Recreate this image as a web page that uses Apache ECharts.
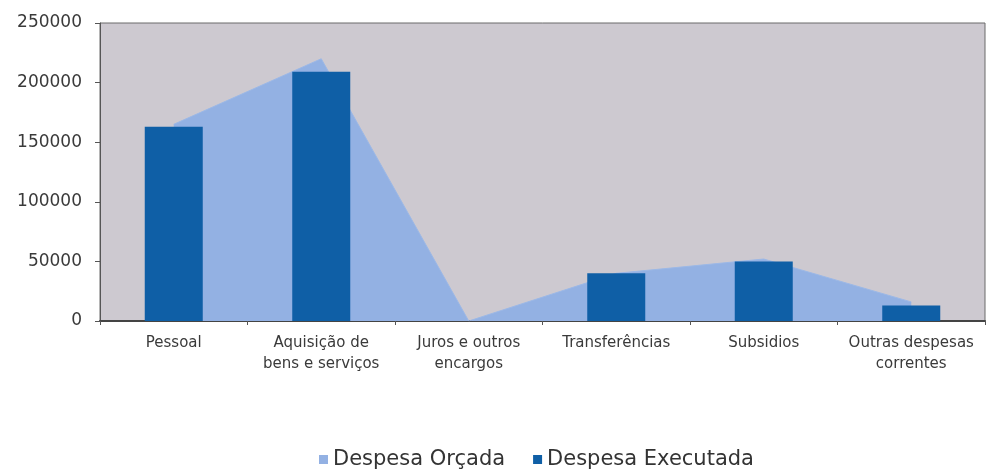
<!DOCTYPE html>
<html>
<head>
<meta charset="utf-8">
<script src="https://cdn.jsdelivr.net/npm/echarts@6/dist/echarts.min.js"></script>
<style>
  html, body { margin: 0; padding: 0; background: #fff; }
  #chart { width: 988px; height: 470px; }
</style>
</head>
<body>
<div id="chart"></div>
<script>
  // categorias (eixo x)
  var categorias = ['Pessoal', 'Aquisição de\nbens e serviços', 'Juros e outros\nencargos',
                    'Transferências', 'Subsidios', 'Outras despesas\ncorrentes']
  // valores
  var despesaOrcada = [165000, 220000, 0, 40000, 52000, 16000]
  var despesaExecutada = [163000, 209000, 0, 40000, 50000, 13000]
  var eixoY = {min: 0, max: 250000, interval: 50000}

  var myChart = echarts.init(document.getElementById('chart'))

  var option = {
    backgroundColor: '#fff',
    animation: false,
    grid: {
      left: 100,
      right: 3,
      top: 23,
      bottom: 149,
      show: true,
      backgroundColor: '#cdc9d0',
      borderColor: '#6a6a6a',
      borderWidth: 1
    },
    legend: {
      left: 314,
      top: 444,
      itemWidth: 9,
      itemHeight: 9,
      itemGap: 28,
      icon: 'rect',
      textStyle: {
        fontFamily: 'DejaVu Sans',
        fontSize: 21,
        color: '#333'
      },
      data: ['Despesa Orçada', 'Despesa Executada']
    },
    xAxis: {
      type: 'category',
      data: categorias,
      boundaryGap: true,
      axisLine: {
        lineStyle: {color: '#444', width: 2}
      },
      axisTick: {
        show: true,
        length: 4,
        lineStyle: {color: '#555'}
      },
      axisLabel: {
        interval: 0,
        margin: 12,
        fontFamily: 'DejaVu Sans',
        fontSize: 15,
        lineHeight: 21,
        color: '#3a3a3a'
      },
      splitLine: {show: false}
    },
    yAxis: {
      type: 'value',
      min: eixoY.min,
      max: eixoY.max,
      interval: eixoY.interval,
      axisLine: {
        show: true,
        lineStyle: {color: '#555'}
      },
      axisTick: {
        show: true,
        length: 5,
        lineStyle: {color: '#555'}
      },
      axisLabel: {
        margin: 18,
        fontFamily: 'DejaVu Sans',
        fontSize: 17,
        color: '#3a3a3a',
        formatter: function (v) { return String(v) }
      },
      splitLine: {show: false}
    },
    series: [
      {
        name: 'Despesa Orçada',
        type: 'line',
        data: despesaOrcada,
        symbol: 'none',
        itemStyle: {color: '#93b1e3'},
        lineStyle: {width: 1, color: '#9cb8e6'},
        areaStyle: {color: '#93b1e3', opacity: 1},
        z: 1
      },
      {
        name: 'Despesa Executada',
        type: 'bar',
        data: despesaExecutada,
        barWidth: 58,
        itemStyle: {color: '#0f5fa6'},
        z: 3
      }
    ]
  }
  myChart.setOption(option)
</script>
</body>
</html>
